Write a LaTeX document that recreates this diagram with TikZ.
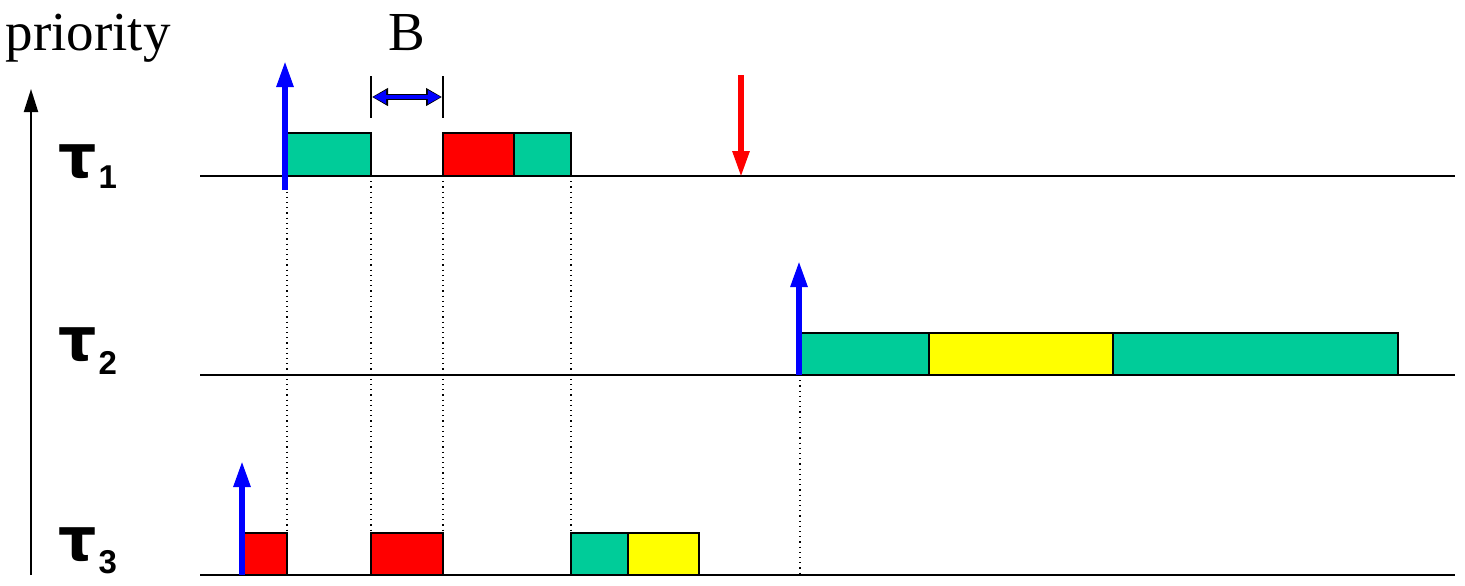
\documentclass[tikz,border=0pt]{standalone}
\usepackage{fontspec}
\setmainfont{Liberation Serif}
\newfontfamily\labfont{Liberation Sans}
\newfontfamily\taufont{DejaVu Sans}
\usetikzlibrary{arrows.meta}
\definecolor{grn}{HTML}{00CC99}
\definecolor{ylw}{HTML}{FFFF00}
\definecolor{rd}{HTML}{FF0000}
\definecolor{bl}{HTML}{0000FF}
\newcommand{\tasklab}[2]{{\taufont\bfseries\fontsize{30}{30}\selectfont τ}\kern1pt\raisebox{#2}{\labfont\bfseries\fontsize{16.5}{16.5}\selectfont #1}}
\begin{document}
\begin{tikzpicture}[x=0.5pt,y=-0.5pt,
  timeline/.style={line width=1pt,black},
  job/.style={draw=black,line width=1pt},
  guide/.style={dotted,line width=0.6pt,black},
  release/.style={bl,line width=2.8pt,-{Triangle[length=13pt,width=8pt]}},
  deadline/.style={rd,line width=2.8pt,-{Triangle[length=13pt,width=8pt]}},
  tau/.style={anchor=base west,inner sep=0pt},
  txt/.style={anchor=base,inner sep=0pt,font=\fontsize{27.5}{27.5}\selectfont}]
\useasboundingbox (0,0) rectangle (1465,585);
% priority axis
\coordinate (pa) at (31,575);
\coordinate (pb) at (31,89);
\draw[line width=1pt,-{Triangle[length=11.5pt,width=7pt]}] (pa) -- (pb);
\node[txt] (prio) at (88,50) {priority};
\node[txt] (B) at (407,50) {B};
% task labels
\node[tau] (t1) at (58,177) {\tasklab{1}{-5.5pt}};
\node[tau] (t2) at (58,360) {\tasklab{2}{-7pt}};
\node[tau] (t3) at (58,560) {\tasklab{3}{-6.5pt}};
% timelines
\coordinate (l1a) at (200,176); \coordinate (l1b) at (1455,176);
\coordinate (l2a) at (200,375); \coordinate (l2b) at (1455,375);
\coordinate (l3a) at (200,575); \coordinate (l3b) at (1455,575);
\draw[timeline] (l1a) -- (l1b);
\draw[timeline] (l2a) -- (l2b);
\draw[timeline] (l3a) -- (l3b);
% dotted guides
\draw[guide] (287,176) -- (287,533);
\draw[guide] (371,176) -- (371,533);
\draw[guide] (443,176) -- (443,533);
\draw[guide] (571,176) -- (571,533);
\draw[guide] (800,375) -- (800,575);
% tau1 jobs
\filldraw[job,fill=grn] (287,133) rectangle (371,176);
\filldraw[job,fill=rd] (443,133) rectangle (514,176);
\filldraw[job,fill=grn] (514,133) rectangle (571,176);
% tau2 jobs
\filldraw[job,fill=grn] (800,333) rectangle (929,375);
\filldraw[job,fill=ylw] (929,333) rectangle (1113,375);
\filldraw[job,fill=grn] (1113,333) rectangle (1398,375);
% tau3 jobs
\filldraw[job,fill=rd] (243,533) rectangle (287,575);
\filldraw[job,fill=rd] (371,533) rectangle (443,575);
\filldraw[job,fill=grn] (571,533) rectangle (628,575);
\filldraw[job,fill=ylw] (628,533) rectangle (699,575);
% release arrows
\coordinate (r1a) at (285,190); \coordinate (r1b) at (285,61);
\coordinate (r2a) at (799,375); \coordinate (r2b) at (799,261);
\coordinate (r3a) at (242,575); \coordinate (r3b) at (242,461);
\draw[release] (r1a) -- (r1b);
\draw[release] (r2a) -- (r2b);
\draw[release] (r3a) -- (r3b);
% deadline arrow
\coordinate (da) at (741,75); \coordinate (db) at (741,177);
\draw[deadline] (da) -- (db);
% blocking interval B
\coordinate (ba1) at (371,76); \coordinate (ba2) at (371,118);
\coordinate (bb1) at (443,76); \coordinate (bb2) at (443,118);
\draw[line width=0.7pt] (ba1) -- (ba2);
\draw[line width=0.7pt] (bb1) -- (bb2);
\coordinate (bl) at (372,97); \coordinate (br) at (442,97);
\draw[black,line width=3.2pt,{Triangle[length=8pt,width=8.5pt]}-{Triangle[length=8pt,width=8.5pt]}] (bl) -- (br);
\draw[bl,line width=1.8pt,shorten <=0.6pt,shorten >=0.6pt,{Triangle[length=6.5pt,width=6.5pt]}-{Triangle[length=6.5pt,width=6.5pt]}] (bl) -- (br);
\end{tikzpicture}
\end{document}
